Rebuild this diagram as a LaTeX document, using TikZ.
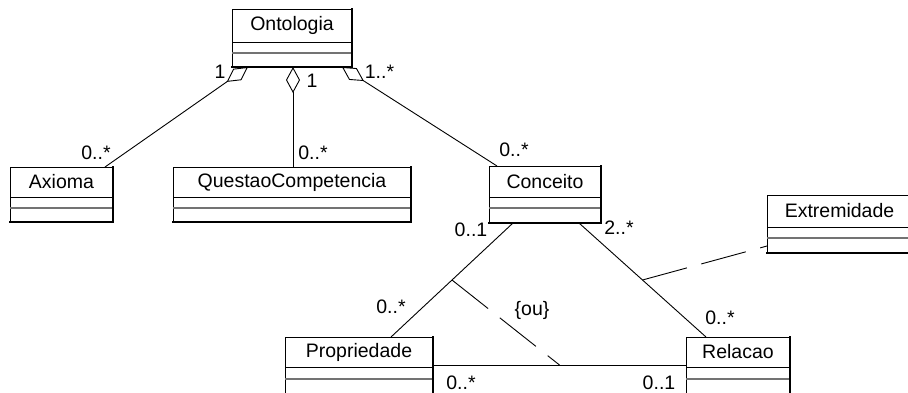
\documentclass[tikz,border=0pt]{standalone}
\usepackage{fontspec}
\setmainfont{Liberation Sans}
\usetikzlibrary{arrows.meta,calc}

% UML class: id, x, y (top left), width, height, first and second separator (from top), name
\newcommand\umlclass[8]{%
  \node[classbox, minimum width=#4pt, minimum height=#5pt] (#1) at (#2,#3) {};
  \draw[sepline] ($(#1.north west)+(0,#6)$) -- ($(#1.north east)+(0,#6)$);
  \draw[sepshade] ($(#1.north west)+(0,#7)$) -- ($(#1.north east)+(0,#7)$);
  \draw[shadeedge] (#1.north east) -- (#1.south east) -- (#1.south west);
  \node[txt] (#1-name) at ($(#1.north)+(0,#6/2)$) {#8};
}

\tikzset{
  txt/.style={font=\fontsize{19.5}{21}\selectfont, inner sep=0pt},
  classbox/.style={draw, line width=1pt, anchor=north west, inner sep=0pt, outer sep=0pt, fill=white},
  sepline/.style={line width=1pt},
  sepshade/.style={line width=1.6pt, draw=black!55},
  shadeedge/.style={line width=2pt, line cap=rect},
  assoc/.style={line width=0.9pt},
  aggr/.style={line width=0.9pt, -{Diamond[open, length=26pt, width=14pt]}},
  dashlink/.style={line width=0.9pt, dash pattern=on 46pt off 15pt},
}

\begin{document}
\begin{tikzpicture}[x=1pt, y=-1pt]
\useasboundingbox (0,0) rectangle (908,392);
\clip (0,0) rectangle (908,392);
\fill[white] (0,0) rectangle (908,392);

% classes
\umlclass{ontologia}{232}{9}{120}{58}{33}{44}{Ontologia}
\umlclass{axioma}{10}{167}{103}{55}{30}{41}{Axioma}
\umlclass{questao}{173}{167}{238}{55}{30}{41}{QuestaoCompetencia}
\umlclass{conceito}{489}{166}{112}{57}{31}{42}{Conceito}
\umlclass{extremidade}{767}{195}{145}{58}{32}{43}{Extremidade}
\umlclass{propriedade}{285}{337}{148}{58}{30}{42}{Propriedade}
\umlclass{relacao}{686}{337}{104}{58}{30}{42}{Relacao}

% aggregations from Ontologia
\draw[aggr] ($(axioma.north west)+(95,0)$) -- ($(ontologia.south west)+(16,0)$);
\draw[aggr] ($(questao.north west)+(120,0)$) -- ($(ontologia.south west)+(61,0)$);
\draw[aggr] ($(conceito.north west)+(8,0)$) -- ($(ontologia.south east)+(-10,0)$);

% associations
\draw[assoc] ($(conceito.south west)+(24,0)$) coordinate (cp1)
  -- ($(propriedade.north west)+(106,0)$) coordinate (cp2);
\draw[assoc] ($(conceito.south east)+(-22,0)$) coordinate (cr1)
  -- ($(relacao.north west)+(20,0)$) coordinate (cr2);
\draw[assoc] ($(propriedade.north east)+(0,28)$) coordinate (pr1)
  -- ($(relacao.north west)+(0,28)$) coordinate (pr2);

% {ou} constraint and association class link
\coordinate (cpmid) at ($(cp1)!0.5!(cp2)$);
\coordinate (prmid) at ($(pr1)!0.5!(pr2)$);
\coordinate (crmid) at ($(cr1)!0.5!(cr2)$);
\draw[dashlink] (cpmid) -- (prmid);
\draw[dashlink] (crmid) -- ($(extremidade.north west)+(0,51)$);

% multiplicities and constraint
\node[txt] (m-o1) at (220,72) {1};
\node[txt] (m-o2) at (312,81) {1};
\node[txt] (m-o3) at (379.5,72) {1..*};
\node[txt] (m-ax) at (96,153) {0..*};
\node[txt] (m-qc) at (313,153) {0..*};
\node[txt] (m-co) at (514,150) {0..*};
\node[txt] (m-cp) at (471,230) {0..1};
\node[txt] (m-cr) at (619,228) {2..*};
\node[txt] (m-pc) at (391,307) {0..*};
\node[txt] (m-rc) at (720,318) {0..*};
\node[txt] (m-pr) at (461,383) {0..*};
\node[txt] (m-rp) at (659,383) {0..1};
\node[txt] (ou) at (532,310) {\{ou\}};
\end{tikzpicture}
\end{document}
